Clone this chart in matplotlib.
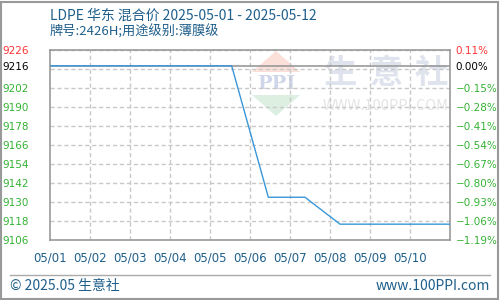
import matplotlib
matplotlib.use("Agg")
import matplotlib.pyplot as plt
from matplotlib.patches import Polygon, Rectangle
import numpy as np

plt.rcParams['font.family'] = ['Noto Sans CJK SC', 'DejaVu Sans']

# data
times = ["2025-05-01 00:00", "2025-05-05 13:00", "2025-05-06 11:00",
         "2025-05-07 09:00", "2025-05-08 06:00", "2025-05-11 00:00"]
prices = [9216, 9216, 9133, 9133, 9116, 9116]
base_price = 9216
day_labels = ["05/01", "05/02", "05/03", "05/04", "05/05",
              "05/06", "05/07", "05/08", "05/09", "05/10"]
grid_vals = [9106, 9118, 9130, 9142, 9154, 9166, 9178, 9190, 9202, 9214, 9226]
tick_vals = [9106, 9118, 9130, 9142, 9154, 9166, 9178, 9190, 9202, 9216, 9226]

title1 = "LDPE 华东 混合价 2025-05-01 - 2025-05-12"
title2 = "牌号:2426H;用途级别:薄膜级"

blue_txt = "#1f5f8b"
green = "#33b233"
red = "#ff3333"

fig = plt.figure(figsize=(5, 3), dpi=100, facecolor="white")


def px(x, y):
    return x / 500, 1 - y / 300


# watermark
wm = dict(transform=fig.transFigure, zorder=-5)
fig.patches.append(Polygon([px(276, 51), px(252, 72), px(300, 72)],
                           closed=True, color="#fbe0da", lw=0, **wm))
fig.patches.append(Polygon([px(252, 95), px(300, 95), px(276, 116)],
                           closed=True, color="#dcefe0", lw=0, **wm))
fig.text(*px(276, 84), "PPI", color="#cfd6ea", fontsize=14, fontweight="bold",
         family="DejaVu Serif", ha="center", va="center", zorder=-5)
for cx, ch in zip([341, 386, 431], "生意社"):
    fig.text(*px(cx, 73), ch, color="#dfe3ee", fontsize=24, fontweight="bold",
             ha="center", va="center", zorder=-5)
fig.text(*px(386, 106), "WWW.100PPI.COM", color="#e4e4e4", fontsize=10.5,
         ha="center", va="center", zorder=-5)

ax = fig.add_axes([0.1, 0.2, 0.8, 0.8333 - 0.2])
ax.patch.set_facecolor("none")

t = np.array(times, dtype="datetime64[m]")
x0 = np.datetime64("2025-05-01")
x1 = np.datetime64("2025-05-11")
ax.set_xlim(x0, x1)
ax.set_ylim(grid_vals[0], grid_vals[-1])

days = np.arange(x0, x1, np.timedelta64(1, "D"))
for d in days[1:]:
    ax.axvline(d, color="#c8c8c8", lw=1, ls=(0, (3, 2)), zorder=1)
for g in grid_vals[1:]:
    ax.axhline(g, color="#c8c8c8", lw=1, ls=(0, (3, 2)), zorder=1)
ax.axhline(base_price, color="#999999", lw=1.2, zorder=2)

ax.plot(t, prices, color="#3a96d8", lw=1.0, zorder=3)

ax.set_xticks(days)
ax.set_xticklabels(day_labels, color=blue_txt, fontsize=8.5, family="DejaVu Sans")
ax.tick_params(axis="x", length=0, pad=8)

ax.set_yticks(tick_vals)
ax.set_yticklabels([str(v) for v in tick_vals], fontsize=7.5, family="DejaVu Sans")
ax.tick_params(axis="y", length=0, pad=15)
for lab, v in zip(ax.get_yticklabels(), tick_vals):
    if v > base_price:
        lab.set_color(red)
    elif v == base_price:
        lab.set_color("black")
    else:
        lab.set_color(green)

for s in ax.spines.values():
    s.set_color("#999999")
    s.set_linewidth(1.2)

ax2 = ax.twinx()
ax2.set_ylim(ax.get_ylim())
ax2.set_yticks(tick_vals)
pct = [(v / base_price - 1) * 100 for v in tick_vals]
ax2.set_yticklabels([f"{p:.2f}%".replace("-", "\u2212") for p in pct],
                    fontsize=7.5, family="DejaVu Sans")
ax2.tick_params(axis="y", length=0, pad=4)
for lab, v in zip(ax2.get_yticklabels(), tick_vals):
    if v > base_price:
        lab.set_color(red)
    elif v == base_price:
        lab.set_color("black")
    else:
        lab.set_color(green)
for s in ax2.spines.values():
    s.set_visible(False)

# titles
fig.text(*px(50, 16), title1, color=blue_txt, fontsize=10, va="center")
fig.text(*px(50, 32), title2, color=blue_txt, fontsize=9.5, va="center")

# footer
fig.add_artist(plt.Line2D([10 / 500, 490 / 500], [1 - 275 / 300] * 2,
                          transform=fig.transFigure, color="#aaaaaa", lw=1))
fig.text(*px(10, 286), "© 2025.05 生意社", color=blue_txt, fontsize=10, va="center")
fig.text(*px(490, 286), "www.100PPI.com", color=blue_txt, fontsize=10,
         va="center", ha="right")

# outer frame
fig.patches.append(Rectangle((0.002, 0.003), 0.994, 0.992, transform=fig.transFigure,
                             fill=False, edgecolor="#999999", lw=1.5))

fig.savefig("out.png", dpi=100)
